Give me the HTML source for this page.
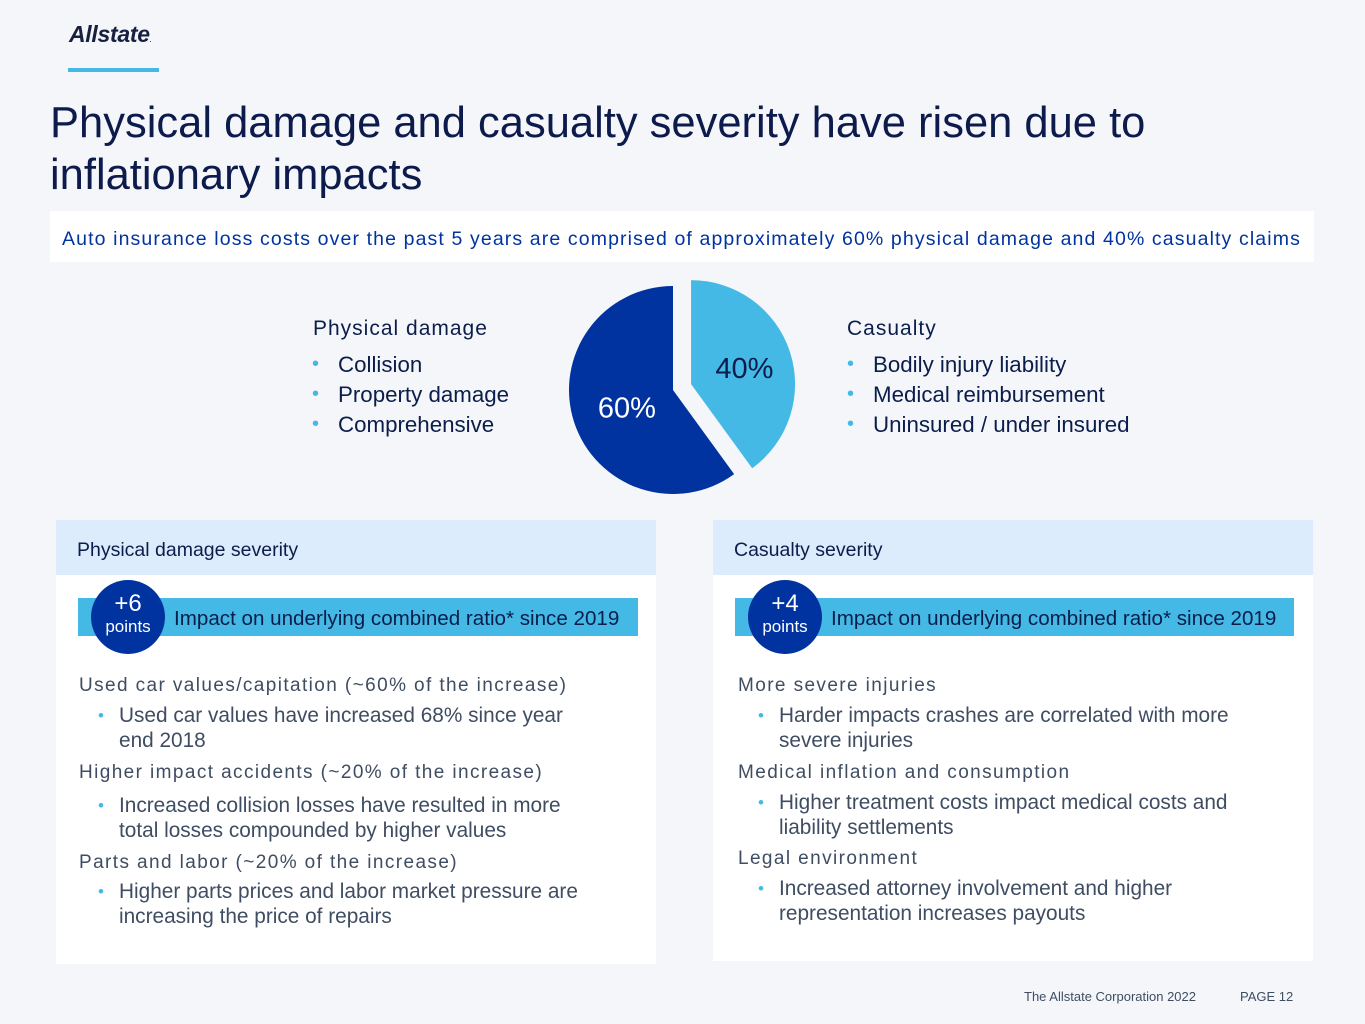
<!DOCTYPE html>
<html><head><meta charset="utf-8"><style>
body{margin:0;width:1365px;height:1024px;background:#f4f6fa;font-family:"Liberation Sans",sans-serif;position:relative;overflow:hidden}
.a{position:absolute;white-space:nowrap}
.navy{color:#0b1d4a}
.sub{font-size:19px;color:#3f4d62;letter-spacing:1.4px}
.b{font-size:20.8px;color:#3f4d62;line-height:25px}
.b .d{color:#45b9e6;position:absolute;left:-21px;font-size:17px}
.li{font-size:22.3px;color:#0b1d4a}
.li .d{color:#45b9e6;position:absolute;left:-26px;font-size:20px;top:1px}
</style></head><body>
<div class="a navy" style="left:69px;top:21px;font-size:23px;font-weight:bold;font-style:italic;letter-spacing:-.3px;color:#18203f">Allstate<span style="font-size:6px">.</span></div>
<div class="a" style="left:68px;top:68px;width:91px;height:4px;background:#45b9e6"></div>
<div class="a navy" style="left:50px;top:97px;font-size:43.5px;line-height:52px;color:#0d1b4c;white-space:normal;width:1250px">Physical damage and casualty severity have risen due to<br>inflationary impacts</div>
<div class="a" style="left:50px;top:211px;width:1264px;height:51px;background:#fff"></div>
<div class="a" style="left:62px;top:228px;font-size:19.5px;color:#0033a0;letter-spacing:1.12px">Auto insurance loss costs over the past 5 years are comprised of approximately 60% physical damage and 40% casualty claims</div>

<div class="a sub" style="left:313px;top:317px;font-size:21px;letter-spacing:1px;color:#0b1d4a">Physical damage</div>
<div class="a li" style="left:338px;top:352px"><span class="d">•</span>Collision</div>
<div class="a li" style="left:338px;top:382px"><span class="d">•</span>Property damage</div>
<div class="a li" style="left:338px;top:412px"><span class="d">•</span>Comprehensive</div>
<div class="a sub" style="left:847px;top:317px;font-size:21px;letter-spacing:1px;color:#0b1d4a">Casualty</div>
<div class="a li" style="left:873px;top:352px"><span class="d">•</span>Bodily injury liability</div>
<div class="a li" style="left:873px;top:382px"><span class="d">•</span>Medical reimbursement</div>
<div class="a li" style="left:873px;top:412px"><span class="d">•</span>Uninsured / under insured</div>

<svg class="a" id="pie" style="left:0;top:0" width="1365" height="520"></svg>

<!-- left panel -->
<div class="a" style="left:56px;top:520px;width:600px;height:444px;background:#fff"></div>
<div class="a" style="left:56px;top:520px;width:600px;height:55px;background:#dcecfc"></div>
<div class="a" style="left:77px;top:539px;font-size:19.5px;color:#0b1d4a">Physical damage severity</div>
<div class="a" style="left:78px;top:598px;width:560px;height:38px;background:#45b9e6"></div>
<div class="a" style="left:91px;top:580px;width:74px;height:74px;border-radius:50%;background:#0033a0;color:#fff;text-align:center"><div style="font-size:24px;margin-top:12px;line-height:24px">+6</div><div style="font-size:17px;line-height:22px">points</div></div>
<div class="a" style="left:174px;top:607px;font-size:20.6px;color:#0b1d4a">Impact on underlying combined ratio* since 2019</div>
<div class="a sub" style="left:79px;top:675px">Used car values/capitation (~60% of the increase)</div>
<div class="a b" style="left:119px;top:703px"><span class="d">•</span>Used car values have increased 68% since year<br>end 2018</div>
<div class="a sub" style="left:79px;top:762px">Higher impact accidents (~20% of the increase)</div>
<div class="a b" style="left:119px;top:793px"><span class="d">•</span>Increased collision losses have resulted in more<br>total losses compounded by higher values</div>
<div class="a sub" style="left:79px;top:852px">Parts and labor (~20% of the increase)</div>
<div class="a b" style="left:119px;top:879px"><span class="d">•</span>Higher parts prices and labor market pressure are<br>increasing the price of repairs</div>

<!-- right panel -->
<div class="a" style="left:713px;top:520px;width:600px;height:441px;background:#fff"></div>
<div class="a" style="left:713px;top:520px;width:600px;height:55px;background:#dcecfc"></div>
<div class="a" style="left:734px;top:539px;font-size:19.5px;color:#0b1d4a">Casualty severity</div>
<div class="a" style="left:735px;top:598px;width:559px;height:38px;background:#45b9e6"></div>
<div class="a" style="left:748px;top:580px;width:74px;height:74px;border-radius:50%;background:#0033a0;color:#fff;text-align:center"><div style="font-size:24px;margin-top:12px;line-height:24px">+4</div><div style="font-size:17px;line-height:22px">points</div></div>
<div class="a" style="left:831px;top:607px;font-size:20.6px;color:#0b1d4a">Impact on underlying combined ratio* since 2019</div>
<div class="a sub" style="left:738px;top:675px">More severe injuries</div>
<div class="a b" style="left:779px;top:703px"><span class="d">•</span>Harder impacts crashes are correlated with more<br>severe injuries</div>
<div class="a sub" style="left:738px;top:762px">Medical inflation and consumption</div>
<div class="a b" style="left:779px;top:790px"><span class="d">•</span>Higher treatment costs impact medical costs and<br>liability settlements</div>
<div class="a sub" style="left:738px;top:848px">Legal environment</div>
<div class="a b" style="left:779px;top:876px"><span class="d">•</span>Increased attorney involvement and higher<br>representation increases payouts</div>

<div class="a" style="left:1024px;top:989px;font-size:13px;color:#3f4d62">The Allstate Corporation 2022</div>
<div class="a" style="left:1240px;top:989px;font-size:13px;color:#3f4d62">PAGE 12</div>

<script>
const sliceLabels=["Casualty","Physical damage"];
const sliceValues=[40,60];
const sliceColors=["#45b9e6","#0033a0"];
const labelColors=["#0b1d4a","#ffffff"];
const svg=document.getElementById('pie');
const NS='http://www.w3.org/2000/svg';
const cx=673,cy=390,r=104;
const total=sliceValues.reduce((a,b)=>a+b,0);
let start=0;
sliceValues.forEach((v,i)=>{
  const a0=start/total*2*Math.PI,a1=(start+v)/total*2*Math.PI;start+=v;
  const mid=(a0+a1)/2;
  const ex=i===0?19:0;
  const ox=cx+ex*Math.sin(mid),oy=cy-ex*Math.cos(mid);
  const x0=ox+r*Math.sin(a0),y0=oy-r*Math.cos(a0),x1=ox+r*Math.sin(a1),y1=oy-r*Math.cos(a1);
  const p=document.createElementNS(NS,'path');
  p.setAttribute('d',`M${ox},${oy}L${x0},${y0}A${r},${r} 0 ${a1-a0>Math.PI?1:0} 1 ${x1},${y1}Z`);
  p.setAttribute('fill',sliceColors[i]);
  
  
  svg.appendChild(p);
  const lr=i===0?55:60;
  const t=document.createElementNS(NS,'text');
  t.setAttribute('x',ox+lr*Math.sin(mid)+(i===0?1:11));
  t.setAttribute('y',oy-lr*Math.cos(mid)+(i===0?11:9));
  t.setAttribute('text-anchor','middle');
  t.setAttribute('font-size','29');
  t.setAttribute('font-family','Liberation Sans, sans-serif');
  t.setAttribute('fill',labelColors[i]);
  t.textContent=v+'%';
  
  
  svg.appendChild(t);
});
</script>
</body></html>
